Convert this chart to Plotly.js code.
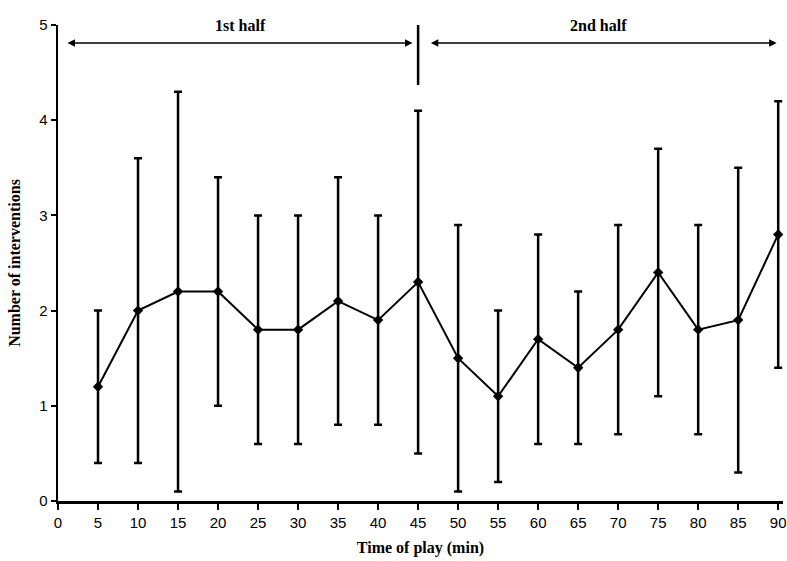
<!DOCTYPE html>
<html>
<head>
<meta charset="utf-8">
<script src="https://cdn.plot.ly/plotly-3.0.1.min.js"></script>
<style>html,body{margin:0;padding:0;background:#fff;}#chart{width:787px;height:561px;}</style>
</head>
<body>
<div id="chart"></div>
<script>
const minutes = [5,10,15,20,25,30,35,40,45,50,55,60,65,70,75,80,85,90];
const meanVals = [1.2,2.0,2.2,2.2,1.8,1.8,2.1,1.9,2.3,1.5,1.1,1.7,1.4,1.8,2.4,1.8,1.9,2.8];
const upperVals = [2.0,3.6,4.3,3.4,3.0,3.0,3.4,3.0,4.1,2.9,2.0,2.8,2.2,2.9,3.7,2.9,3.5,4.2];
const lowerVals = [0.4,0.4,0.1,1.0,0.6,0.6,0.8,0.8,0.5,0.1,0.2,0.6,0.6,0.7,1.1,0.7,0.3,1.4];
const xTicks = [0,5,10,15,20,25,30,35,40,45,50,55,60,65,70,75,80,85,90];
const yTicks = [0,1,2,3,4,5];
const halfLabels = ["1st half","2nd half"];

const errPlus = upperVals.map((u,i)=>+(u-meanVals[i]).toFixed(3));
const errMinus = lowerVals.map((l,i)=>+(meanVals[i]-l).toFixed(3));

const trace = {
  x: minutes, y: meanVals, type: 'scatter', mode: 'lines+markers',
  line: {color:'#000', width:2},
  marker: {symbol:'diamond', size:8, color:'#000'},
  error_y: {type:'data', symmetric:false, array:errPlus, arrayminus:errMinus,
            color:'#000', thickness:2.5, width:4},
  cliponaxis:false, showlegend:false
};

const arrowY = 4.81;
const serif = 'Liberation Serif, Times New Roman';
const layout = {
  width:787, height:561,
  margin:{l:58, r:4, t:25, b:60},
  paper_bgcolor:'#fff', plot_bgcolor:'#fff',
  xaxis:{range:[0,90.6], tickvals:xTicks, ticks:'outside', ticklen:6, tickwidth:2, tickcolor:'#000',
         showline:true, linecolor:'#000', linewidth:2.5, showgrid:false, zeroline:false,
         tickfont:{family:'Liberation Sans, Arial', size:15, color:'#000'},
         title:{text:'<b>Time of play (min)</b>', font:{family:serif, size:16, color:'#000'}, standoff:13}},
  yaxis:{range:[0,5], tickvals:yTicks, ticks:'outside', ticklen:5, tickwidth:2, tickcolor:'#000',
         showline:true, linecolor:'#000', linewidth:2.5, showgrid:false, zeroline:false,
         tickfont:{family:'Liberation Sans, Arial', size:15, color:'#000'},
         title:{text:'<b>Number of interventions</b>', font:{family:serif, size:16, color:'#000'}, standoff:15}},
  shapes:[
    {type:'line', xref:'x', yref:'y', x0:45, x1:45, y0:4.37, y1:5.27, line:{color:'#000', width:2.5}}
  ],
  annotations:[
    {x:44.3, y:arrowY, ax:1, ay:arrowY, xref:'x', yref:'y', axref:'x', ayref:'y', text:'', showarrow:true, arrowhead:2, arrowsize:1, arrowwidth:1.5, arrowcolor:'#000', startarrowhead:2, arrowside:'end+start', startarrowsize:1},
    {x:89.8, y:arrowY, ax:46.4, ay:arrowY, xref:'x', yref:'y', axref:'x', ayref:'y', text:'', showarrow:true, arrowhead:2, arrowsize:1, arrowwidth:1.5, arrowcolor:'#000', startarrowhead:2, arrowside:'end+start', startarrowsize:1},
    {x:22.75, y:5.0, xref:'x', yref:'y', text:'<b>'+halfLabels[0]+'</b>', showarrow:false, font:{family:serif, size:16, color:'#000'}},
    {x:67.5, y:5.0, xref:'x', yref:'y', text:'<b>'+halfLabels[1]+'</b>', showarrow:false, font:{family:serif, size:16, color:'#000'}}
  ]
};
Plotly.newPlot('chart', [trace], layout, {displayModeBar:false, staticPlot:true});
</script>
</body>
</html>
